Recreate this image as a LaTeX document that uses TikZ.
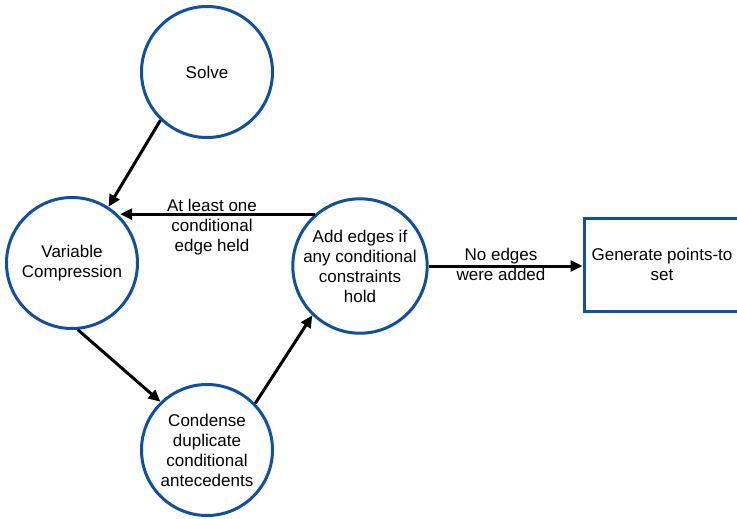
\documentclass[tikz,border=0pt]{standalone}
\usepackage{fontspec}
\setmainfont{Liberation Sans}
\usetikzlibrary{arrows.meta}
\definecolor{ringblue}{RGB}{16,80,158}
\begin{document}
\begin{tikzpicture}[x=1pt,y=-1pt,
  txt/.style={font=\fontsize{17}{20}\selectfont, align=center},
  state/.style={circle, draw=ringblue, line width=3pt, minimum size=131pt, inner sep=0pt, txt},
  boxnode/.style={rectangle, draw=ringblue, line width=3pt, txt},
  conn/.style={line width=3pt, -{Triangle[length=12pt,width=11pt]}},
  lbl/.style={txt}]
\clip (0,0) rectangle (737,519);
\node[state] (solve) at (207,72) {Solve};
\node[state] (vc) at (72,263) {Variable\\Compression};
\node[state] (cond) at (207,450) {Condense\\duplicate\\conditional\\antecedents};
\node[state, minimum size=133pt] (add) at (360,266) {Add edges if\\any conditional\\constraints\\hold};
\node[boxnode, minimum width=158pt, minimum height=93pt] (gen) at (663,264.5) {};
\node[txt] (gentxt) at (662,264) {Generate points-to\\set};
\draw[conn] (solve.-134) -- (vc.57);
\draw[conn] (add.131) -- (add.131 -| vc.44);
\node[lbl] (l1) at (212,227) {At least one\\conditional\\edge held};
\draw[conn] (vc.-85) -- (cond.134);
\draw[conn] (cond.44) -- (add.-134);
\draw[conn] (add.east) -- (add.east -| gen.west);
\node[lbl] (l2) at (501,264) {No edges\\were added};
\end{tikzpicture}
\end{document}
